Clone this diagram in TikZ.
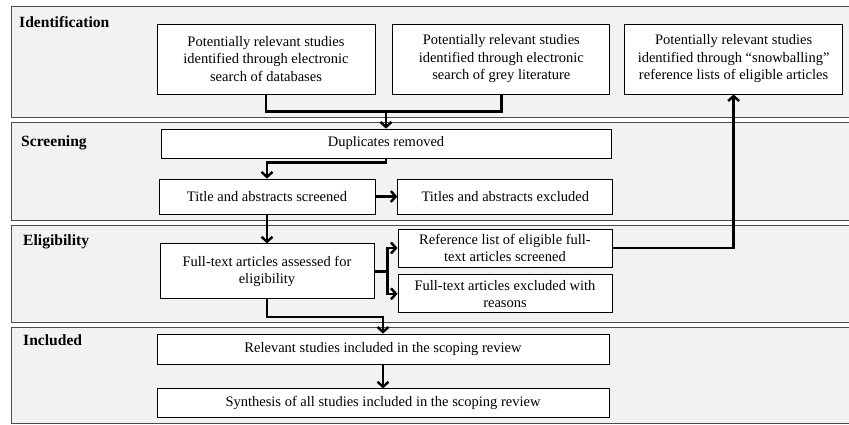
\documentclass[tikz,border=0pt]{standalone}
\usepackage{fontspec}
\setmainfont{Liberation Serif}
\usetikzlibrary{arrows.meta,positioning}

\begin{document}
\begin{tikzpicture}[
  x=1pt, y=-1pt,
  node distance=17pt,
  band/.style={draw=black!70,fill=black!5,line width=1pt},
  bandlabel/.style={anchor=base west,inner sep=0pt,font=\fontsize{15.6}{18}\selectfont\bfseries},
  box/.style={draw,fill=white,line width=.8pt,align=center,inner sep=0pt,font=\fontsize{14.5}{17.5}\selectfont},
  >={Straight Barb[length=5pt,width=11pt]},
  flow/.style={line width=2.4pt}
]
\useasboundingbox (0,0) rectangle (849,425);

% Phase bands
\draw[band] (11,7) rectangle (852,118);
\draw[band] (11,123) rectangle (852,220);
\draw[band] (11,225) rectangle (852,322);
\draw[band] (11,327) rectangle (852,423);
\node[bandlabel] (idlab) at (19,28) {Identification};
\node[bandlabel] (scrlab) at (21,147) {Screening};
\node[bandlabel] (eliglab) at (23,245) {Eligibility};
\node[bandlabel] (inclab) at (23,345) {Included};

% Identification
\node[box,minimum width=218pt,minimum height=70pt] (db) at (266,59) {Potentially relevant studies\\identified through electronic\\search of databases};
\node[box,minimum width=217pt,minimum height=70pt,right=17pt of db] (grey) {Potentially relevant studies\\identified through electronic\\search of grey literature};
\node[box,minimum width=218pt,minimum height=70pt,right=14pt of grey] (snow) {Potentially relevant studies\\identified through “snowballing”\\reference lists of eligible articles};

% Screening
\node[box,minimum width=450pt,minimum height=29pt] (dup) at (386,143.5) {Duplicates removed};
\node[box,minimum width=216pt,minimum height=35pt] (title) at (267,196.5) {Title and abstracts screened};
\node[box,minimum width=215pt,minimum height=35pt,right=22pt of title] (excl) {Titles and abstracts excluded};

% Eligibility
\node[box,minimum width=214pt,minimum height=55pt,below=29pt of title] (full) {Full-text articles assessed for\\eligibility};
\node[box,minimum width=214pt,minimum height=38pt] (ref) at (505,248) {Reference list of eligible full-\\text articles screened};
\node[box,minimum width=214pt,minimum height=38pt,below=7pt of ref] (ftx) {Full-text articles excluded with\\reasons};

% Included
\node[box,minimum width=452pt,minimum height=30pt] (rel) at (383,349) {Relevant studies included in the scoping review};
\node[box,minimum width=452pt,minimum height=29pt,below=24pt of rel] (syn) {Synthesis of all studies included in the scoping review};

% Flow
\coordinate[above=17pt of dup.north] (idjoin);
\draw[flow] (db.south) |- (idjoin) -| (grey.south);
\draw[flow,->] (idjoin) -- (dup.north);
\draw[flow,->] (dup.south) -- ++(0,4) -| (title.north);
\draw[flow,->] (title) -- (excl);
\draw[flow,->] (title) -- (full);
\coordinate[right=13pt of full.east] (fork);
\draw[flow] (full.east) -- (fork);
\draw[flow,->] (fork) |- (ref.west);
\draw[flow,->] (fork) |- (ftx.west);
\draw[flow,->] (ref.east) -| (snow.south);
\draw[flow,->] (full.south) -- ++(0,18) -| (rel.north);
\draw[flow,->] (rel) -- (syn);
\end{tikzpicture}
\end{document}
